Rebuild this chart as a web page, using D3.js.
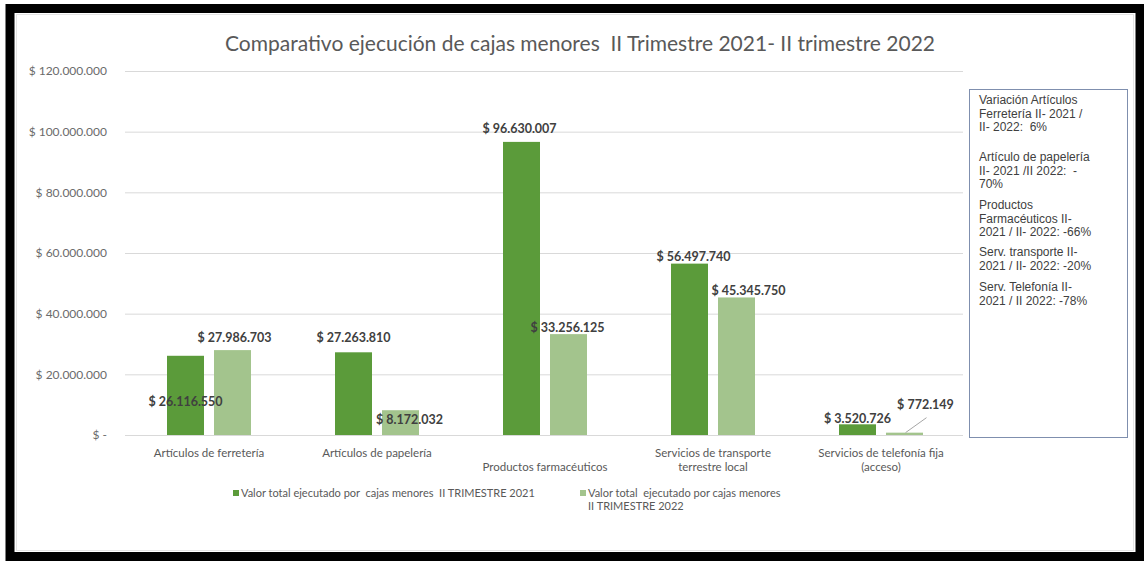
<!DOCTYPE html>
<html>
<head>
<meta charset="utf-8">
<script src="https://cdn.jsdelivr.net/npm/d3@7"></script>
<style>
  body { margin: 0; background: #fff; }
  svg { display: block; }
  text { white-space: pre; }
</style>
</head>
<body>
<svg id="chart" width="1144" height="561"></svg>
<script>
// data
var categories = [
  ["Artículos de ferretería"],
  ["Artículos de papelería"],
  ["", "Productos farmacéuticos"],
  ["Servicios de transporte", "terrestre local"],
  ["Servicios de telefonía fija", "(acceso)"]
];
var seriesNames = [
  "Valor total ejecutado por  cajas menores  II TRIMESTRE 2021",
  "Valor total  ejecutado por cajas menores"
];
var values2021 = [26116550, 27263810, 96630007, 56497740, 3520726];
var values2022 = [27986703, 8172032, 33256125, 45345750, 772149];
var yTicks = [0, 20000000, 40000000, 60000000, 80000000, 100000000, 120000000];
var noteLines = [
  ["Variación Artículos", "Ferretería II- 2021 /", "II- 2022:  6%"],
  ["Artículo de papelería", "II- 2021 /II 2022:  -", "70%"],
  ["Productos", "Farmacéuticos II-", "2021 / II- 2022: -66%"],
  ["Serv. transporte II-", "2021 / II- 2022: -20%"],
  ["Serv. Telefonía II-", "2021 / II 2022: -78%"]
];

// manual label nudges (like the hand-moved Excel labels)
var labelNudge2021 = [[0, 46], [0, -14], [-2, -13], [4, -7], [0, -5]];
var labelNudge2022 = [[2, -12], [9, 10], [-1, -6], [12, -6], [21, -28]];
var noteParaTop = [104, 161, 209, 256, 291];

var svg = d3.select("#chart");
var colors = ["#5b9b3a", "#a3c48d"];

var locale = d3.formatLocale({ decimal: ",", thousands: ".", grouping: [3], currency: ["$ ", ""] });
var money = locale.format("$,.0f");
function tickText(v) { return v === 0 ? "$ -" : money(v); }

// frame
svg.append("rect").attr("x", 0).attr("y", 0).attr("width", 1144).attr("height", 561).attr("fill", "#fff");
svg.append("rect").attr("x", 10).attr("y", 8.5).attr("width", 1130).attr("height", 548)
  .attr("fill", "none").attr("stroke", "#000").attr("stroke-width", 9);
svg.append("rect").attr("x", 16.5).attr("y", 14.5).attr("width", 1117).attr("height", 536)
  .attr("fill", "none").attr("stroke", "#e4e4e4");

var x0 = d3.scaleBand().domain(d3.range(categories.length)).range([125, 965])
  .paddingInner(0.5).paddingOuter(0.25);
var x1 = d3.scaleBand().domain([0, 1]).range([0, x0.bandwidth()]).paddingInner(0.213);
var y = d3.scaleLinear().domain([0, 120000000]).range([435, 71]);

// title
svg.append("text")
  .attr("x", 580).attr("y", 51)
  .attr("text-anchor", "middle")
  .style("font-family", "Lato, sans-serif")
  .style("font-size", "21px")
  .style("fill", "#595959")
  .text("Comparativo ejecución de cajas menores  II Trimestre 2021- II trimestre 2022");

// grid + y labels
var yAxis = svg.append("g")
  .attr("transform", "translate(125,0)")
  .call(d3.axisLeft(y).tickValues(yTicks).tickSize(-838).tickPadding(18).tickFormat(tickText));
yAxis.select(".domain").remove();
yAxis.selectAll("line").attr("stroke", "#d9d9d9");
yAxis.selectAll("text")
  .style("font-family", "Lato, sans-serif")
  .style("font-size", "12px")
  .style("fill", "#6b6b6b");

// bars
var groups = svg.selectAll(".cat")
  .data(values2021.map((d, i) => ({ i: i, v: [d, values2022[i]] })))
  .enter().append("g")
  .attr("class", "cat")
  .attr("transform", d => "translate(" + x0(d.i) + ",0)");

groups.selectAll("rect")
  .data(d => d.v.map((v, s) => ({ s: s, v: v })))
  .enter().append("rect")
  .attr("x", d => x1(d.s))
  .attr("y", d => y(d.v))
  .attr("width", x1.bandwidth())
  .attr("height", d => y(0) - y(d.v))
  .attr("fill", d => colors[d.s]);

// data labels
var labels = [];
values2021.forEach((v, i) => labels.push({ i: i, s: 0, v: v, n: labelNudge2021[i] }));
values2022.forEach((v, i) => labels.push({ i: i, s: 1, v: v, n: labelNudge2022[i] }));

svg.selectAll(".dlabel")
  .data(labels)
  .enter().append("text")
  .attr("class", "dlabel")
  .attr("x", d => x0(d.i) + x1(d.s) + x1.bandwidth() / 2 + d.n[0])
  .attr("y", d => y(d.v) + d.n[1] + 4)
  .attr("text-anchor", "middle")
  .style("font-family", "Lato, sans-serif")
  .style("font-size", "12.5px")
  .style("font-weight", "bold")
  .style("fill", "#404040")
  .text(d => money(d.v));

// leader line for the tiny telefonía bar
var last = values2022.length - 1;
var lx = x0(last) + x1(1) + x1.bandwidth() / 2;
svg.append("line")
  .attr("x1", lx + 22).attr("y1", y(values2022[last]) - 15)
  .attr("x2", lx + 1).attr("y2", y(values2022[last]))
  .attr("stroke", "#a6a6a6");

// category labels
svg.selectAll(".catlabel")
  .data(categories)
  .enter().append("text")
  .attr("class", "catlabel")
  .attr("x", (d, i) => x0(i) + x0.bandwidth() / 2)
  .attr("y", 457)
  .attr("text-anchor", "middle")
  .style("font-family", "Lato, sans-serif")
  .style("font-size", "11.5px")
  .style("fill", "#595959")
  .selectAll("tspan")
  .data(d => d)
  .enter().append("tspan")
  .attr("x", function () { return this.parentNode.getAttribute("x"); })
  .attr("dy", (d, j) => j === 0 ? 0 : 14)
  .text(d => d);

// legend
var legendPos = [[233, 497], [580, 497]];
seriesNames.forEach(function (name, s) {
  svg.append("rect")
    .attr("x", legendPos[s][0]).attr("y", legendPos[s][1] - 7)
    .attr("width", 6).attr("height", 6)
    .attr("fill", colors[s]);
  svg.append("text")
    .attr("x", legendPos[s][0] + 8).attr("y", legendPos[s][1])
    .style("font-family", "Lato, sans-serif")
    .style("font-size", "11px")
    .style("fill", "#595959")
    .text(name);
});
svg.append("text")
  .attr("x", legendPos[1][0] + 8).attr("y", legendPos[1][1] + 13)
  .style("font-family", "Lato, sans-serif")
  .style("font-size", "11px")
  .style("fill", "#595959")
  .text("II TRIMESTRE 2022");

// note box
svg.append("rect")
  .attr("x", 969.5).attr("y", 89.5).attr("width", 158).attr("height", 348)
  .attr("fill", "#fff").attr("stroke", "#7f8fae");

var noteText = svg.append("text")
  .style("font-family", "'Liberation Sans', Arial, sans-serif")
  .style("font-size", "12px")
  .style("fill", "#404040");
noteLines.forEach(function (para, p) {
  para.forEach(function (line, j) {
    noteText.append("tspan").attr("x", 979).attr("y", noteParaTop[p] + j * 13.5).text(line);
  });
});
</script>
</body>
</html>
